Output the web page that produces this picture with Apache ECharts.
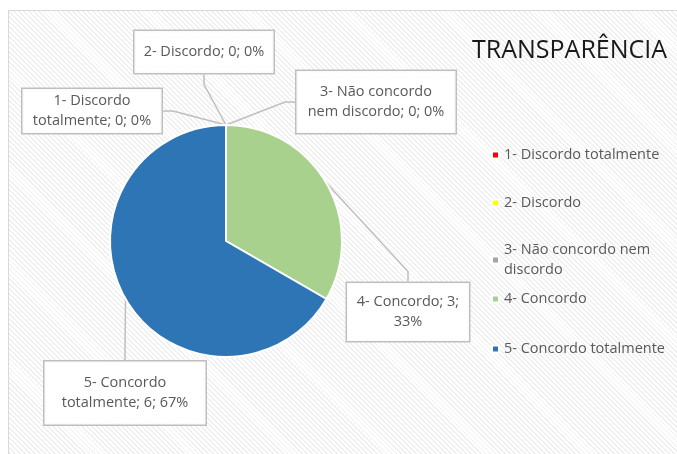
<!DOCTYPE html>
<html>
<head>
<meta charset="utf-8">
<script src="https://cdn.jsdelivr.net/npm/echarts@6/dist/echarts.min.js"></script>
<style>
  html, body { margin: 0; padding: 0; background: #fff; }
  #frame {
    position: absolute; left: 8px; top: 10px; width: 680px; height: 460px;
    border: 1px solid #d9d9d9;
    background: repeating-linear-gradient(45deg, #ffffff 0px, #ffffff 2.2px, #efefef 2.2px, #efefef 3.5px);
  }
  #chart { position: absolute; left: 0; top: 0; width: 677px; height: 454px; }
</style>
</head>
<body>
<div id="frame"></div>
<div id="chart"></div>
<script>
const categories = [
  '1- Discordo totalmente',
  '2- Discordo',
  '3- Não concordo nem discordo',
  '4- Concordo',
  '5- Concordo totalmente'
];
const values = [0, 0, 0, 3, 6];
const colors = ['#ff0000', '#ffff00', '#a5a5a5', '#a9d18e', '#2e75b6'];
const chartTitle = 'TRANSPARÊNCIA';

// where each callout label wraps (text before the line break)
const labelBreaks = ['1- Discordo', null, '3- Não concordo', '4- Concordo; 3;', '5- Concordo'];

// callout boxes: center x/y, box width/height
const callouts = [
  { x: 92, y: 111, w: 139, h: 44 },
  { x: 204, y: 52, w: 139, h: 42 },
  { x: 376, y: 102, w: 159, h: 62 },
  { x: 408, y: 312, w: 122, h: 58 },
  { x: 125, y: 393, w: 161, h: 63 }
];
const legendTops = [145, 193, 240, 289, 339];

const font = '"Open Sans", sans-serif';
const chart = echarts.init(document.getElementById('chart'));

const legends = categories.map((name, i) => ({
  data: [name],
  left: 491,
  top: legendTops[i],
  padding: 0,
  icon: 'rect',
  itemWidth: 7,
  itemHeight: 7,
  selectedMode: false,
  formatter: n => n === '3- Não concordo nem discordo' ? '3- Não concordo nem\ndiscordo' : n,
  textStyle: { fontFamily: font, fontSize: 14.5, color: '#595959', lineHeight: 20 }
}));

chart.setOption({
  animation: false,
  title: {
    text: chartTitle,
    left: 472,
    top: 38,
    padding: 0,
    textStyle: { fontFamily: font, fontSize: 25, fontWeight: 'normal', color: '#1a1a1a' }
  },
  legend: legends,
  series: [
    {
      type: 'pie',
      center: [226, 241],
      radius: 116,
      startAngle: 90,
      clockwise: true,
      percentPrecision: 0,
      minShowLabelAngle: 0,
      avoidLabelOverlap: false,
      itemStyle: { borderColor: '#ffffff', borderWidth: 2 },
      label: {
        show: true,
        position: 'outside',
        fontFamily: font,
        fontSize: 14.5,
        color: '#595959',
        lineHeight: 20,
        align: 'center',
        backgroundColor: 'rgba(255,255,255,0.93)',
        borderColor: '#bfbfbf',
        borderWidth: 1.5,
        formatter: p => {
          const txt = `${p.name}; ${p.value}; ${p.percent}%`;
          const b = labelBreaks[p.dataIndex];
          return b ? b + '\n' + txt.slice(b.length + 1) : txt;
        }
      },
      labelLine: {
        show: true,
        length: 10,
        length2: 10,
        lineStyle: { color: '#bfbfbf', width: 1.5 }
      },
      labelLayout: p => {
        const c = callouts[p.dataIndex];
        return { x: c.x, y: c.y, align: 'center', verticalAlign: 'middle' };
      },
      data: categories.map((name, i) => {
        const c = callouts[i];
        const lines = labelBreaks[i] ? 2 : 1;
        const padV = (c.h - lines * 20) / 2;
        return {
          name,
          value: values[i],
          itemStyle: { color: colors[i] },
          label: { padding: [padV, 4, padV, 4], width: c.w - 8 }
        };
      })
    }
  ]
});
</script>
</body>
</html>
